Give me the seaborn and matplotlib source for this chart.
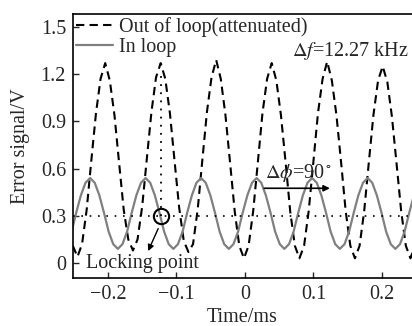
import numpy as np
import seaborn as sns
import matplotlib.pyplot as plt

# in-loop error signal (grey)
t_in = [-0.253, -0.2463, -0.2395, -0.2328, -0.226, -0.2193, -0.2125, -0.2058,
        -0.199, -0.1923, -0.1855, -0.1788, -0.172, -0.1653, -0.1585, -0.1518,
        -0.145, -0.1383, -0.1315, -0.1248, -0.118, -0.1113, -0.1045, -0.0978,
        -0.091, -0.0843, -0.0775, -0.0708, -0.064, -0.0573, -0.0505, -0.0438,
        -0.037, -0.0303, -0.0235, -0.0168, -0.01, -0.0033, 0.0035, 0.0103,
        0.017, 0.0238, 0.0305, 0.0373, 0.044, 0.0508, 0.0575, 0.0643,
        0.071, 0.0778, 0.0845, 0.0913, 0.098, 0.1048, 0.1115, 0.1183,
        0.125, 0.1318, 0.1385, 0.1453, 0.152, 0.1588, 0.1655, 0.1723,
        0.179, 0.1858, 0.1925, 0.1993, 0.206, 0.2128, 0.2195, 0.2263,
        0.233, 0.2398, 0.2465, 0.2533]
v_in = [0.20, 0.32, 0.43, 0.51,
        0.54, 0.51, 0.43, 0.32, 0.20, 0.12, 0.09, 0.12, 0.20, 0.32, 0.43, 0.51,
        0.54, 0.51, 0.43, 0.32, 0.20, 0.12, 0.09, 0.12, 0.20, 0.32, 0.43, 0.51,
        0.54, 0.51, 0.43, 0.32, 0.20, 0.12, 0.09, 0.12, 0.20, 0.32, 0.43, 0.51,
        0.54, 0.51, 0.43, 0.32, 0.20, 0.12, 0.09, 0.12, 0.20, 0.32, 0.43, 0.51,
        0.54, 0.51, 0.43, 0.32, 0.20, 0.12, 0.09, 0.12, 0.20, 0.32, 0.43, 0.51,
        0.54, 0.51, 0.43, 0.32, 0.20, 0.12, 0.09, 0.12, 0.20, 0.32, 0.43, 0.51]

# out-of-loop error signal (dashed, attenuated)
t_out = [-0.2513, -0.2445, -0.2378, -0.231, -0.2243, -0.2175, -0.2108, -0.204,
         -0.1973, -0.1905, -0.1838, -0.177, -0.1703, -0.1635, -0.1568, -0.15,
         -0.1433, -0.1365, -0.1298, -0.123, -0.1163, -0.1095, -0.1028, -0.096,
         -0.0893, -0.0825, -0.0758, -0.069, -0.0623, -0.0555, -0.0488, -0.042,
         -0.0353, -0.0285, -0.0218, -0.015, -0.0083, -0.0015, 0.0053, 0.012,
         0.0188, 0.0255, 0.0323, 0.039, 0.0458, 0.0525, 0.0593, 0.066,
         0.0728, 0.0795, 0.0863, 0.093, 0.0998, 0.1065, 0.1133, 0.12,
         0.1268, 0.1335, 0.1403, 0.147, 0.1538, 0.1605, 0.1673, 0.174,
         0.1808, 0.1875, 0.1943, 0.201, 0.2078, 0.2145, 0.2213, 0.228,
         0.2348, 0.2415, 0.2483, 0.255]
v_out = [0.11, 0.04,
         0.12, 0.34, 0.65, 0.95, 1.17, 1.27, 1.16, 0.94, 0.64, 0.34, 0.15, 0.08,
         0.15, 0.36, 0.66, 0.96, 1.18, 1.27, 1.17, 0.95, 0.65, 0.35, 0.14, 0.07,
         0.12, 0.34, 0.65, 0.96, 1.18, 1.29, 1.17, 0.94, 0.64, 0.33, 0.11, 0.03,
         0.11, 0.33, 0.64, 0.95, 1.17, 1.27, 1.16, 0.94, 0.64, 0.33, 0.11, 0.03,
         0.11, 0.33, 0.64, 0.95, 1.17, 1.28, 1.16, 0.94, 0.64, 0.33, 0.11, 0.03,
         0.11, 0.33, 0.64, 0.94, 1.16, 1.25, 1.15, 0.93, 0.63, 0.33, 0.11, 0.03,
         0.11, 0.33]

lock_t = -0.123
lock_v = 0.3

sns.set_theme(style='ticks')
plt.rcParams['font.family'] = ['Liberation Serif', 'DejaVu Serif']
plt.rcParams['mathtext.fontset'] = 'stix'
fs = 14.5

fig = plt.figure(figsize=(4.12, 3.26), dpi=100)
ax = fig.add_axes([73 / 412, 48 / 326, 339 / 412, 264 / 326])

sns.lineplot(x=t_out, y=v_out, ax=ax, color='black', lw=1.5,
             linestyle=(0, (4, 2.5)), label='Out of loop(attenuated)')
sns.lineplot(x=t_in, y=v_in, ax=ax, color='#808080', lw=1.6, label='In loop')

ax.axhline(lock_v, color='black', lw=1.2, linestyle=(0, (1, 4)))
ax.plot([lock_t, lock_t], [lock_v, 1.2], color='black', lw=1.3, linestyle=(0, (1, 3.5)))
ax.plot(lock_t, lock_v, 'o', ms=11, mfc='none', mec='black', mew=1.5)

ax.annotate('', xy=(-0.143, 0.06), xytext=(-0.125, 0.235),
            arrowprops=dict(arrowstyle='-|>', color='black', lw=1.0, mutation_scale=9))
ax.text(-0.232, 0.0, 'Locking point', fontsize=fs, va='center', ha='left')

ax.annotate('', xy=(0.128, 0.475), xytext=(0.024, 0.475),
            arrowprops=dict(arrowstyle='-|>', color='black', lw=1.2, mutation_scale=9))
ax.text(0.079, 0.57, r'$\Delta\phi$=90$^\circ$', fontsize=fs, va='center', ha='center')
ax.text(0.239, 1.35, r'$\Delta f$=12.27 kHz', fontsize=fs, va='center', ha='right')

ax.set_xlim(-0.251, 0.2438)
ax.set_ylim(-0.095, 1.582)
ax.set_xticks([-0.2, -0.1, 0, 0.1, 0.2])
ax.set_xticklabels(['\u22120.2', '\u22120.1', '0', '0.1', '0.2'])
ax.set_yticks([0, 0.3, 0.6, 0.9, 1.2, 1.5])
ax.set_yticklabels(['0', '0.3', '0.6', '0.9', '1.2', '1.5'])
ax.tick_params(direction='in', length=4, width=1, labelsize=fs, pad=5)
ax.set_xlabel('Time/ms', fontsize=fs, labelpad=3)
ax.set_ylabel('Error signal/V', fontsize=fs, labelpad=8)

for side in ['left', 'bottom', 'top']:
    ax.spines[side].set_linewidth(1.2)
    ax.spines[side].set_color('black')
ax.spines['right'].set_visible(False)

ax.legend(loc='upper left', bbox_to_anchor=(0.0, 1.0), frameon=False, fontsize=fs,
          handlelength=1.85, handletextpad=0.3, borderaxespad=0.0, labelspacing=0.05,
          borderpad=0.15)

fig.savefig('out.png', dpi=100)
